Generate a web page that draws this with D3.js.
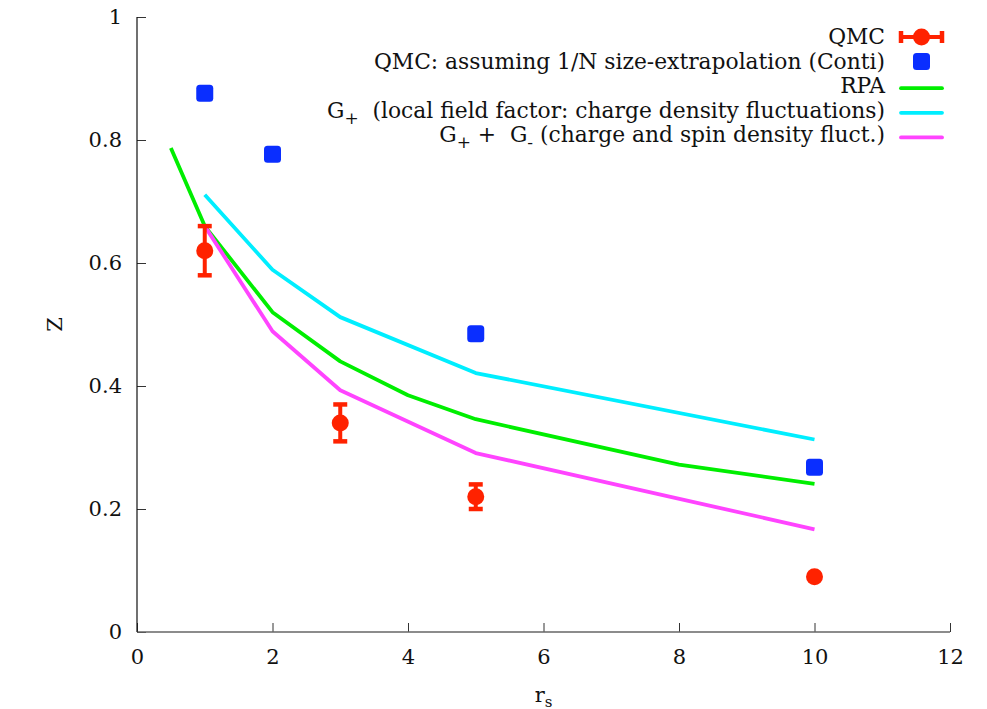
<!DOCTYPE html>
<html>
<head>
<meta charset="utf-8">
<script src="https://cdn.jsdelivr.net/npm/d3@7/dist/d3.min.js"></script>
<style>
  body { margin: 0; background: #fff; }
  text { font-family: "DejaVu Serif", "Liberation Serif", serif; fill: #111; }
</style>
</head>
<body>
<div id="chart"></div>
<script>
// values
var xTicks = [0, 2, 4, 6, 8, 10, 12];
var yTicks = [0, 0.2, 0.4, 0.6, 0.8, 1];

var qmcRs = [1, 3, 5, 10];
var qmcZ = [0.62, 0.34, 0.22, 0.09];
var qmcErr = [0.04, 0.03, 0.02, 0];

var contiRs = [1, 2, 5, 10];
var contiZ = [0.876, 0.777, 0.485, 0.268];

var rpaRs = [0.5, 1, 2, 3, 4, 5, 8, 10];
var rpaZ = [0.787, 0.66, 0.52, 0.44, 0.385, 0.346, 0.272, 0.241];

var gpRs = [1, 2, 3, 5, 10];
var gpZ = [0.711, 0.589, 0.512, 0.421, 0.313];

var gpmRs = [1, 2, 3, 5, 10];
var gpmZ = [0.66, 0.489, 0.393, 0.291, 0.167];

var svgWidth = 987;
var svgHeight = 709;
var margin = { top: 17, right: 37, bottom: 77, left: 137 };
var width = svgWidth - margin.left - margin.right;
var height = svgHeight - margin.top - margin.bottom;
var fs = "21px";

var svg = d3.select("#chart")
    .append("svg")
    .attr("width", svgWidth)
    .attr("height", svgHeight);

var g = svg.append("g")
    .attr("transform", `translate(${margin.left}, ${margin.top})`);

var x = d3.scaleLinear().domain([0, 12]).range([0, width]);
var y = d3.scaleLinear().domain([0, 1]).range([height, 0]);

// axes, gnuplot style: ticks pointing inwards
var xAxis = g.append("g")
    .attr("transform", `translate(0, ${height})`)
    .call(d3.axisBottom(x).tickValues(xTicks).tickSize(-9).tickPadding(17).tickFormat(d3.format("d")));
var yAxis = g.append("g")
    .call(d3.axisLeft(y).tickValues(yTicks).tickSize(-9).tickPadding(15).tickFormat(d => d === 0 || d === 1 ? d : d.toFixed(1)));

[xAxis, yAxis].forEach(function(a) {
    a.select(".domain").remove();
    a.selectAll("line").attr("stroke", "#333");
    a.selectAll("text").style("font-size", fs).attr("fill", "#111");
});

g.append("line").attr("x1", 0).attr("x2", width).attr("y1", height).attr("y2", height)
    .attr("stroke", "#666").attr("stroke-width", 1.6);
g.append("line").attr("x1", 0).attr("x2", 0).attr("y1", 0).attr("y2", height)
    .attr("stroke", "#111").attr("stroke-width", 1.2);

// axis labels
svg.append("text")
    .attr("transform", `translate(62, ${margin.top + y(0.5)}) rotate(-90)`)
    .attr("text-anchor", "middle")
    .style("font-size", fs)
    .text("Z");

var xl = svg.append("text")
    .attr("x", margin.left + x(6.0))
    .attr("y", 702)
    .attr("text-anchor", "middle")
    .style("font-size", fs);
xl.append("tspan").text("r");
xl.append("tspan").attr("baseline-shift", "-30%").style("font-size", "15px").text("s");

// lines
var line = d3.line().x(d => x(d[0])).y(d => y(d[1]));
var curves = [
    { rs: rpaRs, z: rpaZ, color: "#00ee00" },
    { rs: gpRs, z: gpZ, color: "#00eeff" },
    { rs: gpmRs, z: gpmZ, color: "#ff44ff" }
];
curves.forEach(function(c) {
    g.append("path")
        .datum(d3.zip(c.rs, c.z))
        .attr("fill", "none")
        .attr("stroke", c.color)
        .attr("stroke-width", 3.8)
        .attr("stroke-linejoin", "round")
        .attr("d", line);
});

// Conti squares
var sq = 17;
g.selectAll(".conti")
    .data(d3.zip(contiRs, contiZ))
    .enter().append("rect")
    .attr("x", d => x(d[0]) - sq / 2)
    .attr("y", d => y(d[1]) - sq / 2)
    .attr("width", sq).attr("height", sq)
    .attr("rx", 3.5)
    .attr("fill", "#0a2eff");

// QMC with error bars
var red = "#ff2200";
var qmc = d3.zip(qmcRs, qmcZ, qmcErr);
qmc.forEach(function(d) {
    var cx = x(d[0]);
    if (d[2] > 0) {
        g.append("line").attr("x1", cx).attr("x2", cx)
            .attr("y1", y(d[1] - d[2])).attr("y2", y(d[1] + d[2]))
            .attr("stroke", red).attr("stroke-width", 4);
        [d[1] - d[2], d[1] + d[2]].forEach(function(v) {
            g.append("line").attr("x1", cx - 7).attr("x2", cx + 7)
                .attr("y1", y(v)).attr("y2", y(v))
                .attr("stroke", red).attr("stroke-width", 4.5).attr("stroke-linecap", "butt");
        });
    }
    g.append("circle").attr("cx", cx).attr("cy", y(d[1])).attr("r", 8.5).attr("fill", red);
});

// legend
var legendNames = [
    [["QMC"]],
    [["QMC: assuming 1/N size-extrapolation (Conti)"]],
    [["RPA"]],
    [["G"], ["+", "sub"], ["  (local field factor: charge density fluctuations)"]],
    [["G"], ["+", "sub"], [" +  G"], ["-", "sub"], [" (charge and spin density fluct.)"]]
];
var textX = 885, sx1 = 901, sx2 = 942, row0 = 37, rowStep = 24.6;
legendNames.forEach(function(parts, i) {
    var yy = row0 + i * rowStep;
    var t = svg.append("text")
        .attr("x", textX).attr("y", yy + 7)
        .attr("text-anchor", "end")
        .attr("xml:space", "preserve")
        .style("font-size", "21.8px")
        .style("white-space", "pre");
    parts.forEach(function(p) {
        var ts = t.append("tspan").text(p[0]);
        if (p[1] === "sub") ts.attr("baseline-shift", "-35%").style("font-size", "17px");
    });
});
var lg = svg.append("g");
var ly = function(i) { return row0 + i * rowStep; };
// QMC sample
lg.append("line").attr("x1", sx1).attr("x2", sx2).attr("y1", ly(0)).attr("y2", ly(0))
    .attr("stroke", red).attr("stroke-width", 4);
[sx1, sx2].forEach(function(xx) {
    lg.append("line").attr("x1", xx).attr("x2", xx).attr("y1", ly(0) - 6).attr("y2", ly(0) + 6)
        .attr("stroke", red).attr("stroke-width", 4.5);
});
lg.append("circle").attr("cx", (sx1 + sx2) / 2).attr("cy", ly(0)).attr("r", 8.5).attr("fill", red);
// Conti sample
lg.append("rect").attr("x", (sx1 + sx2) / 2 - sq / 2).attr("y", ly(1) - sq / 2)
    .attr("width", sq).attr("height", sq).attr("rx", 3.5).attr("fill", "#0a2eff");
// line samples
curves.forEach(function(c, i) {
    lg.append("line").attr("x1", sx1).attr("x2", sx2)
        .attr("y1", ly(i + 2) + 2).attr("y2", ly(i + 2) + 2)
        .attr("stroke", c.color).attr("stroke-width", 3.8).attr("stroke-linecap", "round");
});
</script>
</body>
</html>
